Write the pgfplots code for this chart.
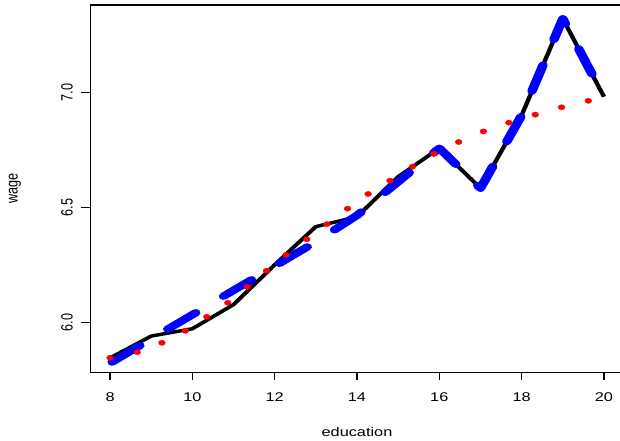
\documentclass[border=0pt]{standalone}
\usepackage{pgfplots}
\pgfplotsset{compat=1.18}
\usepackage{fontspec}
\setmainfont{Liberation Sans}
\definecolor{rblue}{RGB}{0,0,255}
\definecolor{rred}{RGB}{255,0,0}
\begin{document}
\begin{tikzpicture}
\path[use as bounding box] (0,0) rectangle (620bp,441bp);
\begin{scope}[transform canvas={yscale=0.775}]
\begin{axis}[
  at={(90.3bp,88.65bp)}, anchor=south west,
  scale only axis, width=533.4bp, height=473.9bp,
  xmin=7.52, xmax=20.48, ymin=5.7826, ymax=7.3796,
  xtick={8,10,...,20}, ytick={6.0,6.5,7.0},
  xtick pos=bottom, ytick pos=left,
  tick align=outside, major tick length=9.8bp,
  tick style={black, line width=1.36bp},
  axis line style={line width=1.36bp},
  every axis plot/.append style={line join=round},
  /pgf/number format/assume math mode=true,
  yticklabel={\pgfmathprintnumber[fixed,fixed zerofill,precision=1]{\tick}},
  ticklabel style={font=\fontsize{16.37}{19}\selectfont},
  xticklabel style={anchor=center, yshift=-22.1bp},
  yticklabel style={anchor=center, xshift=-13.5bp, rotate=90},
  xlabel={education}, ylabel={wage},
  label style={font=\fontsize{16.37}{19}\selectfont},
  xlabel style={at={(axis description cs:0.5,0)}, anchor=center, yshift=-77bp},
  ylabel style={at={(axis description cs:0,0.5)}, anchor=center, yshift=75.3bp},
  clip=false,
]
% black solid
\addplot[black, line width=4.4bp] coordinates {
(8,5.845) (9,5.940) (10,5.972) (11,6.077) (12,6.250) (13,6.416) (14,6.459)
(15,6.633) (16,6.757) (17,6.583) (18,6.900) (19,7.320) (20,6.981)};
% red dotted curve (dots)
\addplot[only marks, mark=*, mark size=3.4bp, rred, mark options={draw=none, fill=rred}] coordinates {
(8.00,5.846) (8.66,5.870) (9.26,5.911) (9.83,5.963) (10.35,6.024) (10.86,6.085)
(11.33,6.154) (11.80,6.224) (12.28,6.293) (12.78,6.361) (13.27,6.427) (13.77,6.494)
(14.27,6.558) (14.80,6.616) (15.35,6.677) (15.87,6.733) (16.47,6.784) (17.07,6.830)
(17.69,6.868) (18.33,6.903) (18.97,6.935) (19.62,6.963)};
% blue dashed
\addplot[rblue, line width=9.45bp, line cap=round, dash pattern=on 35.05bp off 35.05bp, dash phase=67.6bp] coordinates {
(8,5.822) (9,5.928) (10,6.033) (11,6.139) (12,6.244) (13,6.350) (14,6.465)
(15,6.611) (16,6.757) (17,6.583) (18,6.900) (19,7.320) (20,6.981)};
\end{axis}
\end{scope}
\end{tikzpicture}
\end{document}
